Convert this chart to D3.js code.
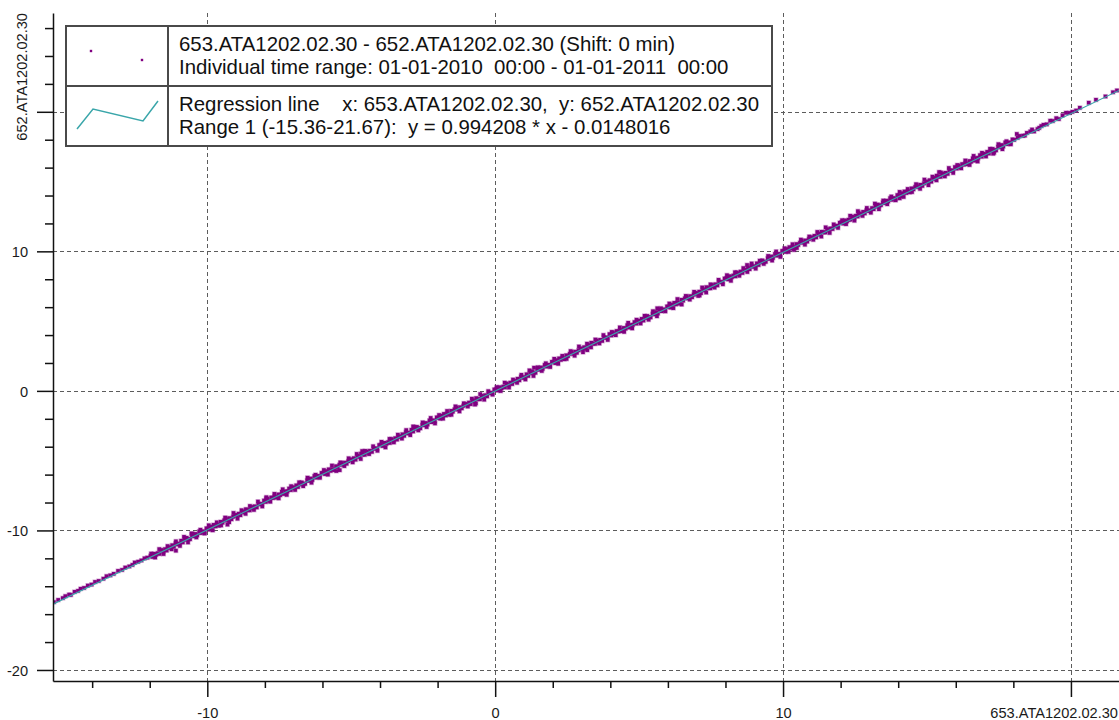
<!DOCTYPE html>
<html>
<head>
<meta charset="utf-8">
<script src="https://cdn.jsdelivr.net/npm/d3@7"></script>
<style>
  html, body { margin: 0; padding: 0; background: #fff; }
  svg { display: block; font-family: Arial, "Liberation Sans", sans-serif; }
  .legend-text { white-space: pre; }
</style>
</head>
<body>
<svg id="chart" width="1119" height="720"></svg>
<script>
// ---- series names and regression ----
const xSeriesName = "653.ATA1202.02.30";
const ySeriesName = "652.ATA1202.02.30";
const shiftMinutes = 0;
const timeRange = ["01-01-2010  00:00", "01-01-2011  00:00"];
const regSlope = 0.994208;
const regIntercept = -0.0148016;
const regRange = [-15.36, 21.67];

// ---- axis ticks ----
const xMajorTicks = [-10, 0, 10, 20];
const xMinorTicks = [-14, -12, -8, -6, -4, -2, 2, 4, 6, 8, 12, 14, 16, 18];
const xTickLabels = ["-10", "0", "10", ""];
const yMajorTicks = [-20, -10, 0, 10, 20];
const yMinorTicks = [-18, -16, -14, -12, -8, -6, -4, -2, 2, 4, 6, 8, 12, 14, 16, 18, 22, 24, 26];
const yTickLabels = ["-20", "-10", "0", "10", ""];
const yDomain = [-20.79, 27.08];

// ---- measured pairs (x: 653, y: 652) ----
const scatterPoints = [
  [-15.33,-15.14],[-15.18,-14.98],[-15.02,-14.85],[-14.93,-14.71],[-14.80,-14.60],[-14.74,-14.62],[-14.61,-14.40],
  [-14.49,-14.33],[-14.40,-14.18],[-14.28,-14.12],[-14.15,-13.95],[-14.02,-13.88],[-13.90,-13.69],[-13.77,-13.62],
  [-13.61,-13.46],[-13.50,-13.28],[-13.37,-13.22],[-13.25,-13.11],[-13.10,-12.90],[-12.96,-12.83],[-12.85,-12.66],
  [-12.71,-12.58],[-12.60,-12.47],[-12.52,-12.30],[-12.40,-12.24],[-12.29,-12.15],[-12.18,-12.00],[-12.08,-11.95],

  [-11.97,-11.82],[-11.91,-11.90],[-11.85,-11.67],[-11.78,-11.74],[-11.72,-11.63],[-11.66,-11.68],[-11.60,-11.40],[-11.53,-11.51],
  [-11.47,-11.34],[-11.41,-11.44],[-11.35,-11.24],[-11.28,-11.22],[-11.22,-11.06],[-11.16,-11.17],[-11.10,-10.91],[-11.03,-11.00],

  [-10.97,-10.95],[-10.91,-10.74],[-10.85,-10.86],[-10.78,-10.67],[-10.72,-10.53],[-10.66,-10.62],[-10.60,-10.63],[-10.53,-10.39],
  [-10.47,-10.41],[-10.41,-10.25],[-10.35,-10.35],[-10.28,-10.07],[-10.22,-10.19],[-10.16,-10.06],[-10.10,-10.12],[-10.03,-9.85],

  [-9.97,-9.88],[-9.91,-9.94],[-9.85,-9.73],[-9.78,-9.60],[-9.72,-9.71],[-9.66,-9.59],[-9.60,-9.66],[-9.53,-9.38],
  [-9.47,-9.44],[-9.41,-9.28],[-9.35,-9.14],[-9.28,-9.28],[-9.22,-9.12],[-9.16,-9.20],[-9.10,-9.02],[-9.03,-8.89],

  [-8.97,-8.94],[-8.91,-8.80],[-8.85,-8.91],[-8.78,-8.64],[-8.72,-8.71],[-8.66,-8.48],[-8.60,-8.54],[-8.53,-8.56],
  [-8.47,-8.32],[-8.41,-8.42],[-8.35,-8.27],[-8.28,-8.35],[-8.22,-8.10],[-8.16,-8.11],[-8.10,-8.12],[-8.03,-7.86],

  [-7.97,-7.96],[-7.91,-7.74],[-7.85,-7.88],[-7.78,-7.64],[-7.72,-7.68],[-7.66,-7.57],[-7.60,-7.65],[-7.53,-7.42],
  [-7.47,-7.47],[-7.41,-7.23],[-7.35,-7.39],[-7.28,-7.21],[-7.22,-7.20],[-7.16,-7.00],[-7.10,-7.11],[-7.03,-6.90],

  [-6.97,-6.98],[-6.91,-6.77],[-6.85,-6.89],[-6.78,-6.70],[-6.72,-6.56],[-6.66,-6.65],[-6.60,-6.66],[-6.53,-6.42],
  [-6.47,-6.44],[-6.41,-6.28],[-6.35,-6.38],[-6.28,-6.10],[-6.22,-6.22],[-6.16,-6.09],[-6.10,-6.15],[-6.03,-5.88],

  [-5.97,-5.90],[-5.91,-5.96],[-5.85,-5.75],[-5.78,-5.62],[-5.72,-5.73],[-5.66,-5.61],[-5.60,-5.68],[-5.53,-5.40],
  [-5.47,-5.46],[-5.41,-5.30],[-5.35,-5.16],[-5.28,-5.30],[-5.22,-5.14],[-5.16,-5.22],[-5.10,-5.04],[-5.03,-4.91],

  [-4.97,-4.96],[-4.91,-4.82],[-4.85,-4.93],[-4.78,-4.66],[-4.72,-4.73],[-4.66,-4.50],[-4.60,-4.56],[-4.53,-4.58],
  [-4.47,-4.34],[-4.41,-4.44],[-4.35,-4.29],[-4.28,-4.37],[-4.22,-4.12],[-4.16,-4.13],[-4.10,-4.14],[-4.03,-3.88],

  [-3.97,-3.87],[-3.91,-3.95],[-3.85,-3.72],[-3.78,-3.79],[-3.72,-3.68],[-3.66,-3.73],[-3.60,-3.45],[-3.53,-3.56],
  [-3.47,-3.39],[-3.41,-3.49],[-3.35,-3.29],[-3.28,-3.27],[-3.22,-3.11],[-3.16,-3.22],[-3.10,-2.96],[-3.03,-3.05],

  [-2.97,-3.00],[-2.91,-2.79],[-2.85,-2.91],[-2.78,-2.72],[-2.72,-2.58],[-2.66,-2.67],[-2.60,-2.68],[-2.53,-2.44],
  [-2.47,-2.46],[-2.41,-2.30],[-2.35,-2.40],[-2.28,-2.12],[-2.22,-2.24],[-2.16,-2.11],[-2.10,-2.17],[-2.03,-1.90],

  [-1.97,-1.93],[-1.91,-1.99],[-1.85,-1.78],[-1.78,-1.65],[-1.72,-1.76],[-1.66,-1.64],[-1.60,-1.71],[-1.53,-1.43],
  [-1.47,-1.49],[-1.41,-1.33],[-1.35,-1.19],[-1.28,-1.33],[-1.22,-1.17],[-1.16,-1.25],[-1.10,-1.07],[-1.03,-0.94],

  [-0.97,-0.98],[-0.91,-0.84],[-0.85,-0.95],[-0.78,-0.68],[-0.72,-0.75],[-0.66,-0.52],[-0.60,-0.58],[-0.53,-0.60],
  [-0.47,-0.36],[-0.41,-0.46],[-0.35,-0.31],[-0.28,-0.39],[-0.22,-0.14],[-0.16,-0.15],[-0.10,-0.16],[-0.03,0.10],

  [0.03,0.11],[0.09,0.03],[0.15,0.26],[0.22,0.19],[0.28,0.30],[0.34,0.25],[0.40,0.53],[0.47,0.42],
  [0.53,0.59],[0.59,0.49],[0.65,0.69],[0.72,0.71],[0.78,0.87],[0.84,0.76],[0.90,1.02],[0.97,0.93],

  [1.03,0.98],[1.09,1.19],[1.15,1.07],[1.22,1.26],[1.28,1.40],[1.34,1.31],[1.40,1.30],[1.47,1.54],
  [1.53,1.52],[1.59,1.68],[1.65,1.58],[1.72,1.86],[1.78,1.74],[1.84,1.87],[1.90,1.81],[1.97,2.08],

  [2.03,2.05],[2.09,1.99],[2.15,2.20],[2.22,2.33],[2.28,2.22],[2.34,2.34],[2.40,2.27],[2.47,2.55],
  [2.53,2.49],[2.59,2.65],[2.65,2.79],[2.72,2.65],[2.78,2.81],[2.84,2.73],[2.90,2.91],[2.97,3.04],

  [3.03,2.99],[3.09,3.13],[3.15,3.02],[3.22,3.29],[3.28,3.22],[3.34,3.45],[3.40,3.39],[3.47,3.37],
  [3.53,3.61],[3.59,3.51],[3.65,3.66],[3.72,3.58],[3.78,3.83],[3.84,3.82],[3.90,3.81],[3.97,4.07],

  [4.03,3.97],[4.09,4.19],[4.15,4.05],[4.22,4.29],[4.28,4.25],[4.34,4.36],[4.40,4.28],[4.47,4.51],
  [4.53,4.46],[4.59,4.70],[4.65,4.54],[4.72,4.72],[4.78,4.73],[4.84,4.93],[4.90,4.82],[4.97,5.03],

  [5.03,4.95],[5.09,5.16],[5.15,5.04],[5.22,5.23],[5.28,5.37],[5.34,5.28],[5.40,5.27],[5.47,5.51],
  [5.53,5.49],[5.59,5.65],[5.65,5.55],[5.72,5.83],[5.78,5.71],[5.84,5.84],[5.90,5.78],[5.97,6.05],

  [6.03,6.03],[6.09,5.97],[6.15,6.18],[6.22,6.31],[6.28,6.20],[6.34,6.32],[6.40,6.25],[6.47,6.53],
  [6.53,6.47],[6.59,6.63],[6.65,6.77],[6.72,6.63],[6.78,6.79],[6.84,6.71],[6.90,6.89],[6.97,7.02],

  [7.03,6.97],[7.09,7.11],[7.15,7.00],[7.22,7.27],[7.28,7.20],[7.34,7.43],[7.40,7.37],[7.47,7.35],
  [7.53,7.59],[7.59,7.49],[7.65,7.64],[7.72,7.56],[7.78,7.81],[7.84,7.80],[7.90,7.79],[7.97,8.05],

  [8.03,8.07],[8.09,7.99],[8.15,8.22],[8.22,8.15],[8.28,8.26],[8.34,8.21],[8.40,8.49],[8.47,8.38],
  [8.53,8.55],[8.59,8.45],[8.65,8.65],[8.72,8.67],[8.78,8.83],[8.84,8.72],[8.90,8.98],[8.97,8.89],

  [9.03,8.93],[9.09,9.14],[9.15,9.02],[9.22,9.21],[9.28,9.35],[9.34,9.26],[9.40,9.25],[9.47,9.49],
  [9.53,9.47],[9.59,9.63],[9.65,9.53],[9.72,9.81],[9.78,9.69],[9.84,9.82],[9.90,9.76],[9.97,10.03],

  [10.03,10.02],[10.09,9.96],[10.15,10.17],[10.22,10.30],[10.28,10.19],[10.34,10.31],[10.40,10.24],[10.47,10.52],
  [10.53,10.46],[10.59,10.62],[10.65,10.76],[10.72,10.62],[10.78,10.78],[10.84,10.70],[10.90,10.88],[10.97,11.01],

  [11.03,10.97],[11.09,11.11],[11.15,11.00],[11.22,11.27],[11.28,11.20],[11.34,11.40],[11.40,11.37],[11.47,11.35],
  [11.53,11.59],[11.59,11.49],[11.65,11.64],[11.72,11.60],[11.78,11.81],[11.84,11.80],[11.90,11.83],[11.97,12.05],

  [12.03,12.07],[12.09,11.99],[12.15,12.22],[12.22,12.15],[12.28,12.26],[12.34,12.27],[12.40,12.49],[12.47,12.38],
  [12.53,12.55],[12.59,12.50],[12.65,12.65],[12.72,12.67],[12.78,12.83],[12.84,12.72],[12.90,12.94],[12.97,12.89],

  [13.03,12.93],[13.09,13.10],[13.15,13.02],[13.22,13.21],[13.28,13.35],[13.34,13.26],[13.40,13.31],[13.47,13.49],
  [13.53,13.47],[13.59,13.63],[13.65,13.58],[13.72,13.81],[13.78,13.69],[13.84,13.82],[13.90,13.76],[13.97,14.03],

  [14.03,14.01],[14.09,13.95],[14.15,14.16],[14.22,14.29],[14.28,14.18],[14.34,14.30],[14.40,14.23],[14.47,14.51],
  [14.53,14.45],[14.59,14.61],[14.65,14.75],[14.72,14.61],[14.78,14.77],[14.84,14.69],[14.90,14.87],[14.97,15.00],

  [15.03,14.96],[15.09,15.10],[15.15,14.99],[15.22,15.26],[15.28,15.19],[15.34,15.42],[15.40,15.36],[15.47,15.34],
  [15.53,15.58],[15.59,15.48],[15.65,15.63],[15.72,15.55],[15.78,15.80],[15.84,15.79],[15.90,15.78],[15.97,16.04],

  [16.03,15.93],[16.09,16.15],[16.15,16.01],[16.22,16.25],[16.28,16.21],[16.34,16.32],[16.40,16.24],[16.47,16.47],
  [16.53,16.42],[16.59,16.66],[16.65,16.50],[16.72,16.68],[16.78,16.69],[16.84,16.89],[16.90,16.78],[16.97,16.99],

  [17.03,16.92],[17.09,17.13],[17.15,17.01],[17.22,17.20],[17.28,17.34],[17.34,17.25],[17.40,17.24],[17.47,17.48],
  [17.53,17.46],[17.59,17.62],[17.65,17.52],[17.72,17.80],[17.78,17.68],[17.84,17.81],[17.90,17.75],[17.97,18.02],

  [18.03,17.99],[18.15,18.14],[18.22,18.27],[18.34,18.28],[18.40,18.30],[18.47,18.49],[18.59,18.59],[18.65,18.73],
  [18.72,18.59],[18.84,18.76],[18.90,18.85],[18.97,18.98],

  [19.05,19.07],[19.16,19.10],[19.28,19.36],[19.37,19.34],[19.49,19.54],[19.58,19.48],[19.71,19.75],[19.83,19.93],[19.94,19.92],

  [20.05,20.00],[20.18,20.09],[20.31,20.29],[20.62,20.65],[20.87,20.86],[21.20,21.10],[21.46,21.40],[21.60,21.53],

  [-11.09,-11.45],[-10.55,-10.22],[-9.30,-9.58],[-7.95,-7.62],[-5.40,-5.68],[-4.62,-4.31],[-2.85,-2.55],[-0.70,-0.98],
  [1.35,1.66],[3.20,2.92],[5.63,5.92],[7.10,6.84],[8.75,9.02],[10.38,10.10],[12.60,12.88],[14.05,13.80],
  [15.42,15.68],[17.30,17.00],[18.12,18.41],

  // wider readings along both edges of the band
  [-11.95,-11.66],[-11.81,-11.94],[-11.67,-11.34],[-11.52,-11.69],[-11.38,-11.12],[-11.24,-11.35],[-11.09,-10.78],
  [-10.95,-11.11],[-10.81,-10.46],[-10.67,-10.86],[-10.52,-10.24],[-10.38,-10.50],[-10.24,-9.95],[-10.09,-10.22],
  [-9.95,-9.63],[-9.81,-9.99],[-9.67,-9.42],[-9.52,-9.64],[-9.38,-9.08],[-9.24,-9.41],[-9.09,-8.75],
  [-8.95,-9.16],[-8.81,-8.55],[-8.67,-8.81],[-8.52,-8.25],[-8.38,-8.53],[-8.24,-7.93],[-8.09,-8.28],
  [-7.95,-7.71],[-7.81,-7.94],[-7.67,-7.38],[-7.52,-7.70],[-7.38,-7.05],[-7.24,-7.45],[-7.09,-6.83],
  [-6.95,-7.10],[-6.81,-6.55],[-6.67,-6.83],[-6.52,-6.22],[-6.38,-6.58],[-6.24,-6.01],[-6.09,-6.23],
  [-5.95,-5.67],[-5.81,-6.00],[-5.67,-5.35],[-5.52,-5.74],[-5.38,-5.13],[-5.24,-5.39],[-5.09,-4.83],
  [-4.95,-5.12],[-4.81,-4.52],[-4.67,-4.88],[-4.52,-4.30],[-4.38,-4.53],[-4.24,-3.97],[-4.09,-4.29],
  [-3.95,-3.65],[-3.81,-4.05],[-3.67,-3.44],[-3.52,-3.69],[-3.38,-3.14],[-3.24,-3.42],[-3.09,-2.81],
  [-2.95,-3.17],[-2.81,-2.60],[-2.67,-2.83],[-2.52,-2.26],[-2.38,-2.59],[-2.24,-1.94],[-2.09,-2.33],
  [-1.95,-1.73],[-1.81,-1.99],[-1.67,-1.44],[-1.52,-1.71],[-1.38,-1.11],[-1.24,-1.47],[-1.09,-0.89],
  [-0.95,-1.12],[-0.81,-0.56],[-0.67,-0.89],[-0.52,-0.23],[-0.38,-0.63],[-0.24,-0.02],[-0.09,-0.27],
  [0.05,0.27],[0.19,-0.01],[0.33,0.59],[0.48,0.24],[0.62,0.81],[0.76,0.58],[0.91,1.15],
  [1.05,0.82],[1.19,1.47],[1.33,1.07],[1.48,1.69],[1.62,1.43],[1.76,1.98],[1.91,1.71],
  [2.05,2.30],[2.19,1.94],[2.33,2.51],[2.48,2.29],[2.62,2.85],[2.76,2.52],[2.91,3.18],
  [3.05,2.77],[3.19,3.38],[3.33,3.12],[3.48,3.68],[3.62,3.40],[3.76,4.00],[3.91,3.65],
  [4.05,4.22],[4.19,3.99],[4.33,4.55],[4.48,4.23],[4.62,4.88],[4.76,4.48],[4.91,5.10],
  [5.05,4.83],[5.19,5.38],[5.33,5.10],[5.48,5.71],[5.62,5.35],[5.76,5.92],[5.91,5.70],
  [6.05,6.26],[6.19,5.93],[6.33,6.58],[6.48,6.19],[6.62,6.80],[6.76,6.54],[6.91,7.10],
  [7.05,6.81],[7.19,7.41],[7.33,7.05],[7.48,7.63],[7.62,7.40],[7.76,7.96],[7.91,7.64],
  [8.05,8.29],[8.19,7.89],[8.33,8.50],[8.48,8.25],[8.62,8.80],[8.76,8.52],[8.91,9.13],
  [9.05,8.76],[9.19,9.33],[9.33,9.10],[9.48,9.67],[9.62,9.34],[9.76,9.99],[9.91,9.60],
  [10.05,10.22],[10.19,9.96],[10.33,10.51],[10.48,10.24],[10.62,10.84],[10.76,10.48],[10.91,11.06],
  [11.05,10.83],[11.19,11.39],[11.33,11.06],[11.48,11.72],[11.62,11.32],[11.76,11.93],[11.91,11.68],
  [12.05,12.23],[12.19,11.95],[12.33,12.55],[12.48,12.20],[12.62,12.77],[12.76,12.54],[12.91,13.11],
  [13.05,12.77],[13.19,13.42],[13.33,13.02],[13.48,13.64],[13.62,13.38],[13.76,13.93],[13.91,13.66],
  [14.05,14.26],[14.19,13.90],[14.33,14.47],[14.48,14.25],[14.62,14.81],[14.76,14.48],[14.91,15.14],
  [15.05,14.74],[15.19,15.35],[15.33,15.09],[15.48,15.65],[15.62,15.37],[15.76,15.97],[15.91,15.62],
  [16.05,16.18],[16.19,15.95],[16.33,16.51],[16.48,16.19],[16.62,16.84],[16.76,16.44],[16.91,17.06],
  [17.05,16.80],[17.19,17.35],[17.33,17.07],[17.48,17.68],[17.62,17.32],[17.76,17.89],[17.91,17.67]
];

// ---- layout ----
const W = 1119, H = 720;
const plot = { left: 53, top: 13, right: 1119, bottom: 681 };
const colors = {
  point: "#800080",
  regression: "#3aa6aa",
  grid: "#5c5c5c",
  axis: "#111",
  text: "#1a1a1a",
  legendBorder: "#4a4a4a"
};
const axisFont = "14.6px";
const legendFont = "20.4px";
const pointSize = 3.6;

const svg = d3.select("#chart");

const x = d3.scaleLinear().domain(regRange).range([plot.left, plot.right]);
const y = d3.scaleLinear().domain(yDomain).range([plot.bottom, plot.top]);

svg.append("defs").append("clipPath").attr("id", "plotClip")
  .append("rect")
  .attr("x", plot.left).attr("y", plot.top)
  .attr("width", plot.right - plot.left).attr("height", plot.bottom - plot.top);

// grid
const grid = svg.append("g").attr("stroke", colors.grid).attr("stroke-width", 1)
  .attr("stroke-dasharray", "4,3").attr("shape-rendering", "crispEdges");
grid.selectAll(".gx").data(xMajorTicks).join("line")
  .attr("x1", d => Math.round(x(d)) + 0.5).attr("x2", d => Math.round(x(d)) + 0.5)
  .attr("y1", plot.top).attr("y2", plot.bottom);
grid.selectAll(".gy").data(yMajorTicks).join("line")
  .attr("y1", d => Math.round(y(d)) + 0.5).attr("y2", d => Math.round(y(d)) + 0.5)
  .attr("x1", plot.left).attr("x2", plot.right);

// scatter points
const pts = svg.append("g").attr("clip-path", "url(#plotClip)");
pts.selectAll("rect").data(scatterPoints).join("rect")
  .attr("x", d => x(d[0]) - pointSize / 2)
  .attr("y", d => y(d[1]) - pointSize / 2)
  .attr("width", pointSize).attr("height", pointSize)
  .attr("fill", colors.point)
  .attr("stroke", colors.point).attr("stroke-opacity", 0.3).attr("stroke-width", 1.4);

// regression line
const regLine = d3.line().x(d => x(d)).y(d => y(regSlope * d + regIntercept));
svg.append("path").attr("clip-path", "url(#plotClip)")
  .datum(regRange)
  .attr("d", regLine)
  .attr("fill", "none").attr("stroke", colors.regression).attr("stroke-width", 1.1);

// axes
function styleAxis(g) {
  g.selectAll("path.domain").attr("stroke", colors.axis).attr("stroke-width", 1.5);
  g.selectAll(".tick line").attr("stroke", colors.axis).attr("stroke-width", 1.5);
}

const xAxisG = svg.append("g").attr("transform", `translate(0,${plot.bottom})`)
  .call(d3.axisBottom(x).tickValues(xMajorTicks).tickSize(16).tickSizeOuter(0)
    .tickFormat((d, i) => xTickLabels[i]));
xAxisG.call(styleAxis);
xAxisG.selectAll(".tick text").attr("fill", colors.text).attr("font-size", axisFont)
  .attr("font-family", "Arial, 'Liberation Sans', sans-serif")
  .attr("y", 37).attr("dy", 0);
svg.append("g").attr("transform", `translate(0,${plot.bottom})`)
  .call(d3.axisBottom(x).tickValues(xMinorTicks).tickSize(7).tickFormat(""))
  .call(g => g.select("path.domain").remove())
  .call(styleAxis);

const yAxisG = svg.append("g").attr("transform", `translate(${plot.left},0)`)
  .call(d3.axisLeft(y).tickValues(yMajorTicks).tickSize(16).tickSizeOuter(0)
    .tickFormat((d, i) => yTickLabels[i]));
yAxisG.call(styleAxis);
yAxisG.selectAll(".tick text").attr("fill", colors.text).attr("font-size", axisFont)
  .attr("font-family", "Arial, 'Liberation Sans', sans-serif")
  .attr("x", -25).attr("dy", "0.35em");
svg.append("g").attr("transform", `translate(${plot.left},0)`)
  .call(d3.axisLeft(y).tickValues(yMinorTicks).tickSize(8).tickFormat(""))
  .call(g => g.select("path.domain").remove())
  .call(styleAxis);

// axis titles
svg.append("text")
  .attr("transform", `translate(27,${plot.top}) rotate(-90)`)
  .attr("text-anchor", "end")
  .attr("font-size", axisFont).attr("fill", colors.text)
  .text(ySeriesName);
svg.append("text")
  .attr("x", W - 1).attr("y", 718)
  .attr("text-anchor", "end")
  .attr("font-size", axisFont).attr("fill", colors.text)
  .text(xSeriesName);

// legend
const legend = { x: 66, y: 26, w: 706, h: 120, col: 102, row: 60 };
const lg = svg.append("g");
lg.append("rect")
  .attr("x", legend.x).attr("y", legend.y).attr("width", legend.w).attr("height", legend.h)
  .attr("fill", "#fff").attr("stroke", colors.legendBorder).attr("stroke-width", 2);
lg.append("line")
  .attr("x1", legend.x + legend.col).attr("x2", legend.x + legend.col)
  .attr("y1", legend.y).attr("y2", legend.y + legend.h)
  .attr("stroke", colors.legendBorder).attr("stroke-width", 2);
lg.append("line")
  .attr("x1", legend.x).attr("x2", legend.x + legend.w)
  .attr("y1", legend.y + legend.row).attr("y2", legend.y + legend.row)
  .attr("stroke", colors.legendBorder).attr("stroke-width", 2);

// legend symbols
const symDots = [[25, 25], [76, 34]];
lg.selectAll(".sym-dot").data(symDots).join("rect")
  .attr("x", d => legend.x + d[0] - 1.2).attr("y", d => legend.y + d[1] - 1.2)
  .attr("width", 2.4).attr("height", 2.4).attr("fill", colors.point);
const symLine = [[11, 103], [27, 83], [77, 95], [92, 75]];
lg.append("path")
  .attr("d", d3.line().x(d => legend.x + d[0]).y(d => legend.y + d[1])(symLine))
  .attr("fill", "none").attr("stroke", colors.regression).attr("stroke-width", 1.5);

const legendLines = [
  `${xSeriesName} - ${ySeriesName} (Shift: ${shiftMinutes} min)`,
  `Individual time range: ${timeRange[0]} - ${timeRange[1]}`,
  `Regression line    x: ${xSeriesName},  y: ${ySeriesName}`,
  `Range 1 (${regRange[0].toFixed(2)}-${regRange[1].toFixed(2)}):  y = ${regSlope} * x ${regIntercept < 0 ? "-" : "+"} ${Math.abs(regIntercept)}`
];
const legendBaselines = [51, 74, 111, 134];
lg.selectAll(".legend-text").data(legendLines).join("text")
  .attr("class", "legend-text")
  .attr("x", 179).attr("y", (d, i) => legendBaselines[i])
  .attr("font-size", legendFont).attr("fill", "#111")
  .text(d => d);
</script>
</body>
</html>
